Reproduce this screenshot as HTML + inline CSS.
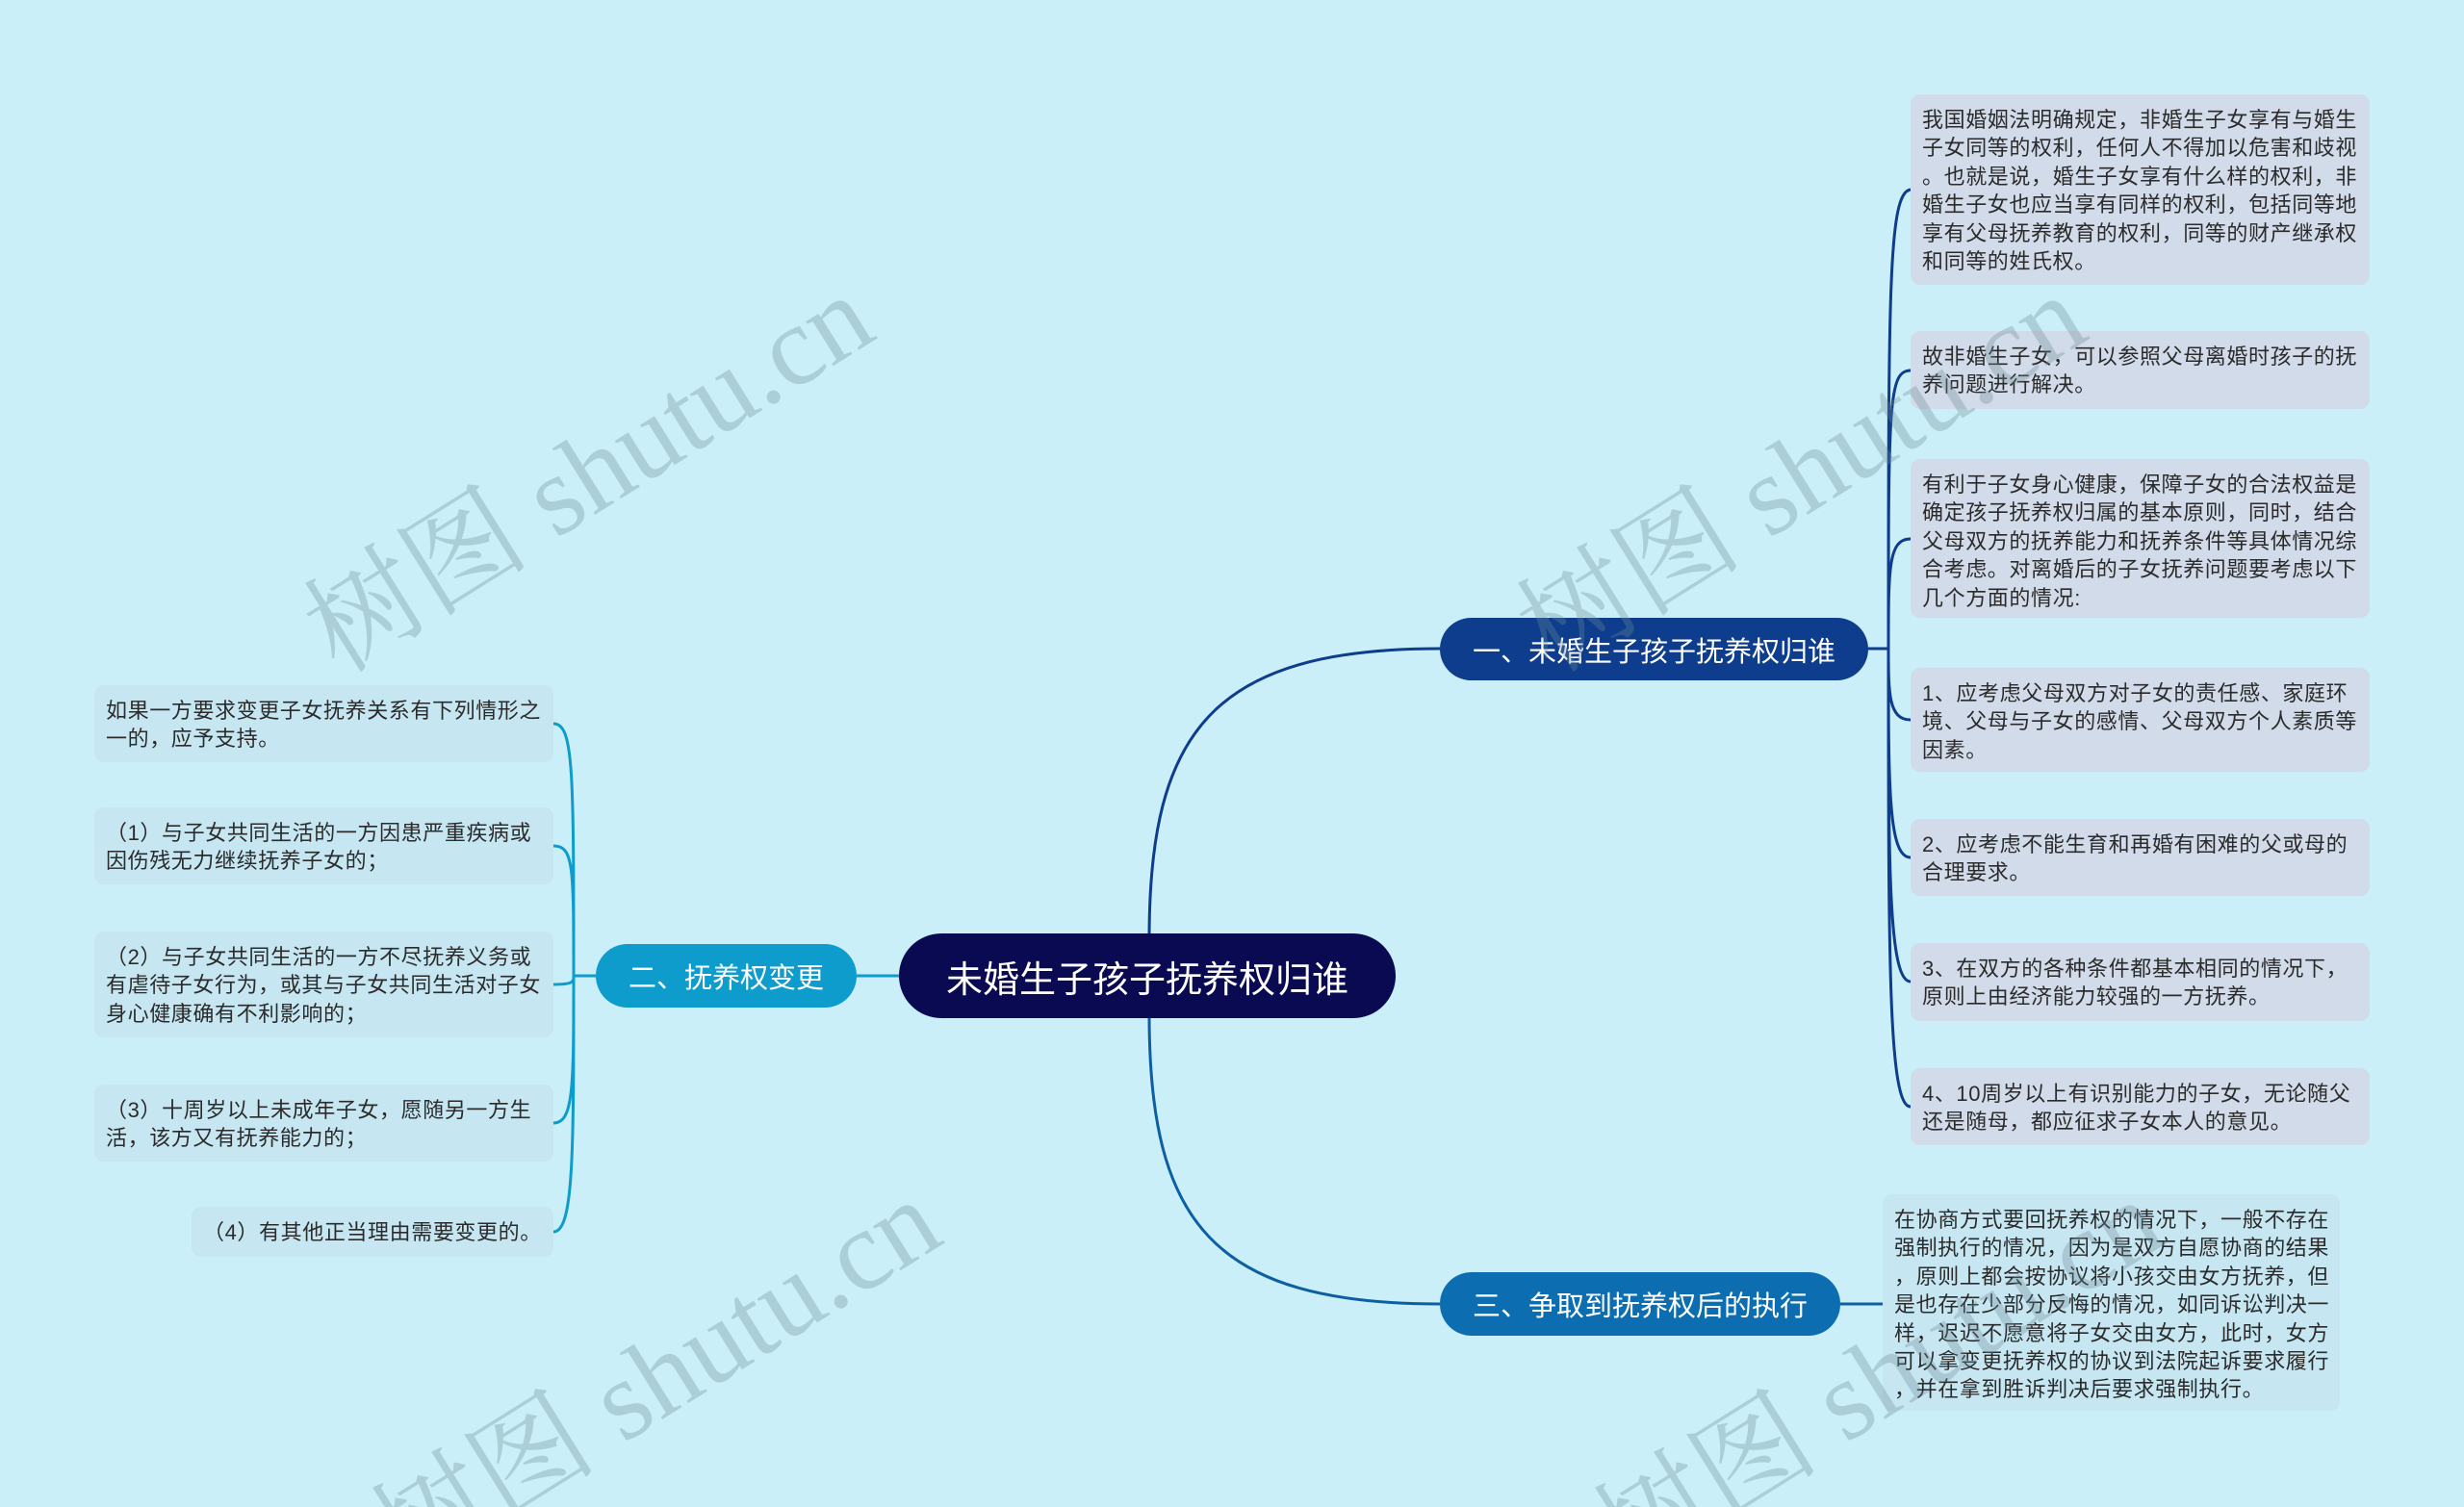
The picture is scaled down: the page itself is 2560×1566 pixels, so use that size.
<!DOCTYPE html>
<html><head><meta charset="utf-8"><style>
html,body{margin:0;padding:0;width:2560px;height:1566px;overflow:hidden}
#w{position:relative;width:2560px;height:1566px;overflow:hidden;background:#caeff8;font-family:"Liberation Sans","Noto Sans CJK SC",sans-serif}
.n{position:absolute;box-sizing:border-box;display:flex;align-items:center;justify-content:center;color:#fff;border-radius:34px;white-space:nowrap}
.l{position:absolute;box-sizing:border-box;border-radius:10px;background:#d1dbe9;color:#2b2b2b;font-size:22px;line-height:29.4px;padding:12px 10px 0 12px;white-space:nowrap;letter-spacing:0.6px}
.lb{background:#c6e6f2}
.wm{position:absolute;font-family:"Liberation Serif","Noto Serif CJK SC",serif;font-size:118px;color:rgba(110,140,150,0.33);transform:rotate(-32deg);transform-origin:left bottom;white-space:nowrap}
</style></head><body><div id="w">
<svg width="2560" height="1566" style="position:absolute;left:0;top:0">
<g fill="none" stroke-width="3">
<path d="M1194,975 C1194,760 1260,674 1496,674" stroke="#0d3d8c"/>
<path d="M1194,1055 C1194,1270 1260,1355 1496,1355" stroke="#0c5fa3"/>
<path d="M890,1014 L934,1014" stroke="#0e9ccc"/>
<path d="M1941,674 L1962,674" stroke="#0d3d8c"/>
<path d="M1962,674 C1962,300 1962,200 1985,197 M1962,674 C1962,420 1962,385 1985,385 M1962,674 C1962,590 1962,560 1985,560 M1962,674 C1962,720 1962,748 1985,748 M1962,674 C1962,820 1962,891 1985,891 M1962,674 C1962,900 1962,1020 1985,1020 M1962,674 C1962,1000 1962,1150 1985,1150" stroke="#0d3d8c"/>
<path d="M1912,1355 L1956,1355" stroke="#0c5fa3"/>
<path d="M619,1014 L596,1014" stroke="#0e9ccc"/>
<path d="M596,1014 C596,800 596,752 575,752 M596,1014 C596,900 596,879 575,879 M596,1014 C596,1020 596,1023 575,1023 M596,1014 C596,1130 596,1167 575,1167 M596,1014 C596,1200 596,1280 575,1280" stroke="#0e9ccc"/>
</g></svg>

<div class="n" style="left:934px;top:970px;width:516px;height:88px;background:#0a0a52;font-size:38px;border-radius:44px">未婚生子孩子抚养权归谁</div>
<div class="n" style="left:1496px;top:642px;width:445px;height:65px;background:#0d3d8c;font-size:29px">一、未婚生子孩子抚养权归谁</div>
<div class="n" style="left:619px;top:981px;width:271px;height:66px;background:#0e9ccc;font-size:29px">二、抚养权变更</div>
<div class="n" style="left:1496px;top:1322px;width:416px;height:66px;background:#0c6eb0;font-size:29px">三、争取到抚养权后的执行</div>

<div class="l" style="left:1985px;top:98px;width:477px;height:198px">我国婚姻法明确规定，非婚生子女享有与婚生<br>子女同等的权利，任何人不得加以危害和歧视<br>。也就是说，婚生子女享有什么样的权利，非<br>婚生子女也应当享有同样的权利，包括同等地<br>享有父母抚养教育的权利，同等的财产继承权<br>和同等的姓氏权。</div>
<div class="l" style="left:1985px;top:344px;width:477px;height:81px">故非婚生子女，可以参照父母离婚时孩子的抚<br>养问题进行解决。</div>
<div class="l" style="left:1985px;top:477px;width:477px;height:165px">有利于子女身心健康，保障子女的合法权益是<br>确定孩子抚养权归属的基本原则，同时，结合<br>父母双方的抚养能力和抚养条件等具体情况综<br>合考虑。对离婚后的子女抚养问题要考虑以下<br>几个方面的情况:</div>
<div class="l" style="left:1985px;top:694px;width:477px;height:108px">1、应考虑父母双方对子女的责任感、家庭环<br>境、父母与子女的感情、父母双方个人素质等<br>因素。</div>
<div class="l" style="left:1985px;top:851px;width:477px;height:80px">2、应考虑不能生育和再婚有困难的父或母的<br>合理要求。</div>
<div class="l" style="left:1985px;top:980px;width:477px;height:81px">3、在双方的各种条件都基本相同的情况下，<br>原则上由经济能力较强的一方抚养。</div>
<div class="l" style="left:1985px;top:1110px;width:477px;height:80px">4、10周岁以上有识别能力的子女，无论随父<br>还是随母，都应征求子女本人的意见。</div>

<div class="l lb" style="left:1956px;top:1241px;width:475px;height:225px">在协商方式要回抚养权的情况下，一般不存在<br>强制执行的情况，因为是双方自愿协商的结果<br>，原则上都会按协议将小孩交由女方抚养，但<br>是也存在少部分反悔的情况，如同诉讼判决一<br>样，迟迟不愿意将子女交由女方，此时，女方<br>可以拿变更抚养权的协议到法院起诉要求履行<br>，并在拿到胜诉判决后要求强制执行。</div>

<div class="l lb" style="left:98px;top:712px;width:477px;height:80px">如果一方要求变更子女抚养关系有下列情形之<br>一的，应予支持。</div>
<div class="l lb" style="left:98px;top:839px;width:477px;height:80px">（1）与子女共同生活的一方因患严重疾病或<br>因伤残无力继续抚养子女的；</div>
<div class="l lb" style="left:98px;top:968px;width:477px;height:110px">（2）与子女共同生活的一方不尽抚养义务或<br>有虐待子女行为，或其与子女共同生活对子女<br>身心健康确有不利影响的；</div>
<div class="l lb" style="left:98px;top:1127px;width:477px;height:80px">（3）十周岁以上未成年子女，愿随另一方生<br>活，该方又有抚养能力的；</div>
<div class="l lb" style="left:199px;top:1254px;width:376px;height:52px">（4）有其他正当理由需要变更的。</div>

<div class="wm" style="left:370px;top:560px">树图 shutu.cn</div>
<div class="wm" style="left:440px;top:1500px">树图 shutu.cn</div>
<div class="wm" style="left:1630px;top:560px">树图 shutu.cn</div>
<div class="wm" style="left:1710px;top:1500px">树图 shutu.cn</div>
</div></body></html>
